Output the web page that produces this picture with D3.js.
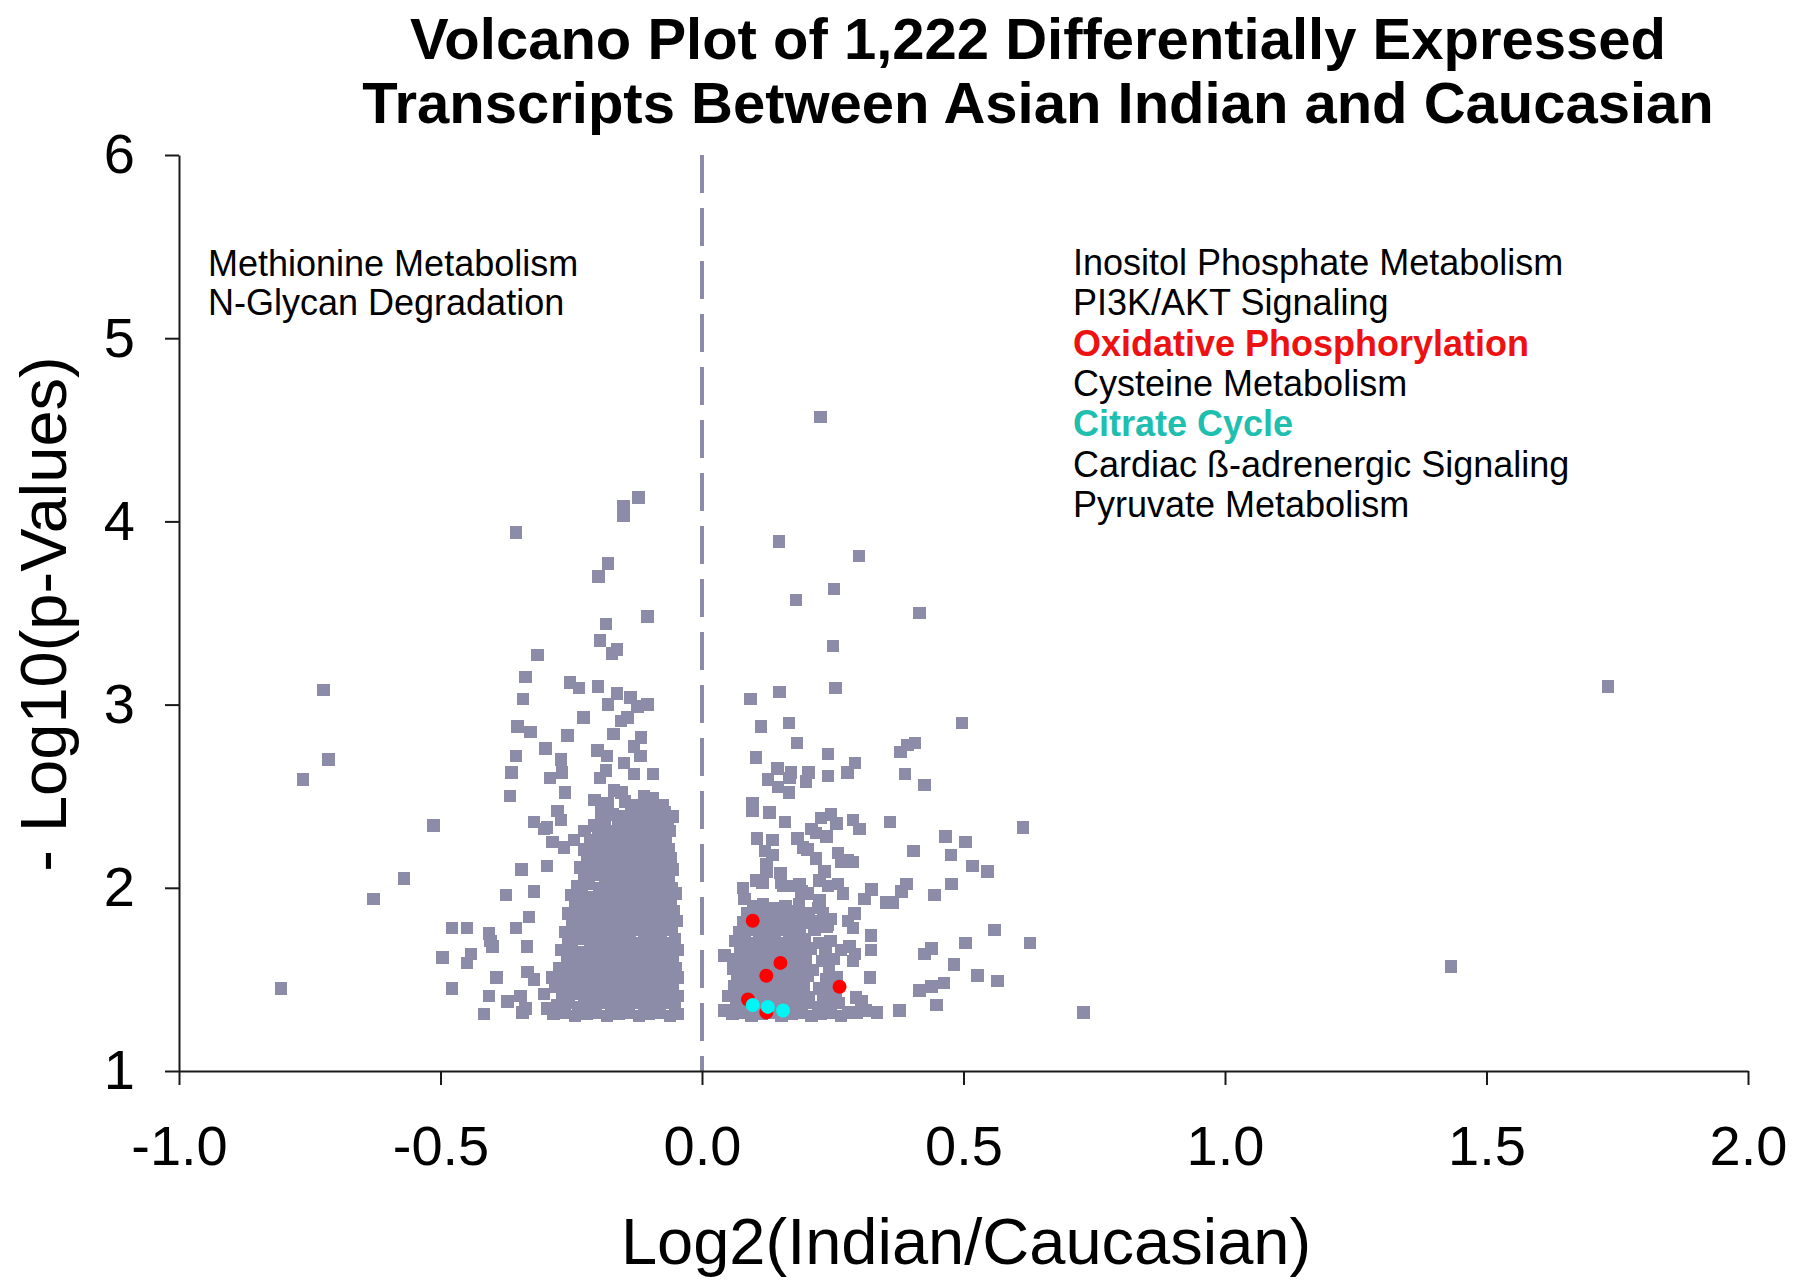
<!DOCTYPE html>
<html>
<head>
<meta charset="utf-8">
<script src="https://cdn.jsdelivr.net/npm/d3@7/dist/d3.min.js"></script>
<style>
  html, body { margin: 0; padding: 0; background: #ffffff; }
  svg { display: block; font-family: "Liberation Sans", Arial, Helvetica, sans-serif; }
</style>
</head>
<body>
<svg id="chart" width="1800" height="1285"></svg>
<script>
// ---------------- DATA ----------------
const titleLines = ["Volcano Plot of 1,222 Differentially Expressed", "Transcripts Between Asian Indian and Caucasian"];
const xTitle = "Log2(Indian/Caucasian)";
const yTitle = "- Log10(p-Values)";
const xTicks = [-1.0, -0.5, 0.0, 0.5, 1.0, 1.5, 2.0];
const yTicks = [1, 2, 3, 4, 5, 6];

const leftPathways = ["Methionine Metabolism", "N-Glycan Degradation"];
const rightPathways = ["Inositol Phosphate Metabolism", "PI3K/AKT Signaling", "Oxidative Phosphorylation",
  "Cysteine Metabolism", "Citrate Cycle", "Cardiac ß-adrenergic Signaling", "Pyruvate Metabolism"];
const highlightedPathways = { "Oxidative Phosphorylation": "ox", "Citrate Cycle": "cit" };

// sparse transcripts, down-regulated side
const leftSparse = [
  [-0.121,4.13],[-0.150,4.08],[-0.150,4.03],[-0.356,3.94],[-0.180,3.77],[-0.198,3.70],[-0.104,3.48],[-0.184,3.44],
  [-0.195,3.35],[-0.163,3.30],[-0.172,3.28],[-0.315,3.27],[-0.337,3.15],[-0.724,3.08],[-0.342,3.03],[-0.252,3.12],
  [-0.235,3.09],[-0.199,3.10],[-0.163,3.06],[-0.137,3.04],[-0.123,2.99],[-0.104,3.00],[-0.180,3.00],[-0.227,2.93],
  [-0.353,2.88],[-0.328,2.85],[-0.257,2.83],[-0.155,2.91],[-0.142,2.93],[-0.169,2.84],[-0.117,2.82],[-0.299,2.76],
  [-0.356,2.72],[-0.270,2.70],[-0.200,2.75],[-0.182,2.72],[-0.130,2.77],[-0.118,2.72],[-0.149,2.68],[-0.364,2.63],
  [-0.268,2.63],[-0.291,2.60],[-0.184,2.64],[-0.195,2.60],[-0.130,2.62],[-0.094,2.62],[-0.763,2.59],[-0.367,2.50],
  [-0.262,2.52],[-0.168,2.53],[-0.154,2.52],[-0.111,2.50],[-0.094,2.49],[-0.206,2.48],[-0.193,2.44],[-0.276,2.42],
  [-0.270,2.37],[-0.321,2.36],[-0.056,2.39],[-0.513,2.34],[-0.123,2.42],[-0.101,2.42],[-0.155,2.39],[-0.296,2.33],
  [-0.714,2.70],[-0.570,2.05],[-0.628,1.94],[-0.478,1.78],[-0.449,1.78],[-0.407,1.75],[-0.401,1.68],[-0.404,1.71],
  [-0.496,1.62],[-0.442,1.64],[-0.449,1.59],[-0.393,1.51],[-0.805,1.45],[-0.478,1.45],[-0.407,1.41],[-0.417,1.31],
  [-0.085,2.45],[-0.076,2.45],[-0.302,2.32],[-0.161,2.34],[-0.193,2.40],[-0.206,2.34],[-0.225,2.31],[-0.245,2.26],
  [-0.286,2.25],[-0.264,2.22],[-0.345,2.10],[-0.296,2.12],[-0.375,1.96],[-0.321,1.98],[-0.331,1.84],[-0.356,1.78],
  [-0.335,1.68],[-0.334,1.54],[-0.321,1.50],[-0.302,1.42],[-0.286,1.51],[-0.372,1.38],[-0.347,1.41],[-0.337,1.34],
  [-0.343,1.32],[-0.296,1.34]
];

// dense core, down-regulated side
const leftDense = [
  [-0.284,1.31],[-0.262,1.32],[-0.243,1.30],[-0.221,1.31],[-0.203,1.32],[-0.182,1.30],[-0.160,1.31],[-0.141,1.32],[-0.120,1.30],[-0.101,1.31],[-0.080,1.32],[-0.061,1.30],[-0.046,1.31],
  [-0.276,1.36],[-0.255,1.37],[-0.236,1.35],[-0.214,1.36],[-0.193,1.37],[-0.173,1.36],[-0.152,1.35],[-0.131,1.37],[-0.111,1.36],[-0.090,1.35],[-0.070,1.37],[-0.052,1.36],
  [-0.268,1.41],[-0.247,1.42],[-0.226,1.40],[-0.206,1.41],[-0.186,1.42],[-0.165,1.41],[-0.144,1.40],[-0.124,1.42],[-0.104,1.41],[-0.083,1.40],[-0.063,1.42],[-0.047,1.41],
  [-0.281,1.46],[-0.259,1.47],[-0.239,1.45],[-0.218,1.46],[-0.197,1.47],[-0.177,1.46],[-0.156,1.45],[-0.136,1.47],[-0.115,1.46],[-0.095,1.45],[-0.074,1.47],[-0.055,1.46],
  [-0.266,1.51],[-0.246,1.52],[-0.225,1.50],[-0.204,1.51],[-0.184,1.52],[-0.163,1.51],[-0.142,1.50],[-0.122,1.52],[-0.101,1.51],[-0.081,1.50],[-0.061,1.52],[-0.046,1.51],
  [-0.272,1.56],[-0.252,1.57],[-0.231,1.55],[-0.211,1.56],[-0.190,1.57],[-0.170,1.56],[-0.149,1.55],[-0.129,1.57],[-0.108,1.56],[-0.088,1.55],[-0.067,1.57],[-0.051,1.56],
  [-0.258,1.61],[-0.238,1.62],[-0.217,1.60],[-0.197,1.61],[-0.176,1.62],[-0.156,1.61],[-0.135,1.60],[-0.115,1.62],[-0.094,1.61],[-0.074,1.60],[-0.055,1.62],
  [-0.270,1.66],[-0.249,1.67],[-0.229,1.65],[-0.208,1.66],[-0.188,1.67],[-0.167,1.66],[-0.147,1.65],[-0.126,1.67],[-0.106,1.66],[-0.085,1.65],[-0.065,1.67],[-0.047,1.66],
  [-0.255,1.71],[-0.234,1.72],[-0.214,1.70],[-0.193,1.71],[-0.173,1.72],[-0.152,1.71],[-0.132,1.70],[-0.111,1.72],[-0.091,1.71],[-0.070,1.70],[-0.052,1.72],
  [-0.262,1.76],[-0.242,1.77],[-0.221,1.75],[-0.201,1.76],[-0.180,1.77],[-0.160,1.76],[-0.139,1.75],[-0.119,1.77],[-0.098,1.76],[-0.078,1.75],[-0.058,1.77],
  [-0.249,1.81],[-0.228,1.82],[-0.208,1.80],[-0.187,1.81],[-0.167,1.82],[-0.146,1.81],[-0.126,1.80],[-0.105,1.82],[-0.085,1.81],[-0.064,1.80],[-0.048,1.82],
  [-0.256,1.86],[-0.236,1.87],[-0.215,1.85],[-0.195,1.86],[-0.174,1.87],[-0.154,1.86],[-0.133,1.85],[-0.113,1.87],[-0.092,1.86],[-0.072,1.85],[-0.054,1.87],
  [-0.243,1.91],[-0.222,1.92],[-0.202,1.90],[-0.181,1.91],[-0.161,1.92],[-0.140,1.91],[-0.120,1.90],[-0.099,1.92],[-0.079,1.91],[-0.059,1.90],
  [-0.250,1.96],[-0.230,1.97],[-0.209,1.95],[-0.189,1.96],[-0.168,1.97],[-0.148,1.96],[-0.127,1.95],[-0.107,1.97],[-0.086,1.96],[-0.066,1.95],[-0.050,1.97],
  [-0.238,2.01],[-0.217,2.02],[-0.197,2.00],[-0.176,2.01],[-0.156,2.02],[-0.135,2.01],[-0.115,2.00],[-0.094,2.02],[-0.074,2.01],[-0.057,2.00],
  [-0.226,2.06],[-0.205,2.07],[-0.185,2.05],[-0.164,2.06],[-0.144,2.07],[-0.123,2.06],[-0.103,2.05],[-0.082,2.07],[-0.063,2.06],
  [-0.232,2.11],[-0.212,2.12],[-0.191,2.10],[-0.171,2.11],[-0.150,2.12],[-0.130,2.11],[-0.109,2.10],[-0.089,2.12],[-0.069,2.11],[-0.056,2.10],
  [-0.219,2.16],[-0.199,2.17],[-0.178,2.15],[-0.158,2.16],[-0.137,2.17],[-0.117,2.16],[-0.096,2.15],[-0.076,2.17],[-0.060,2.16],
  [-0.226,2.21],[-0.206,2.22],[-0.185,2.20],[-0.165,2.21],[-0.144,2.22],[-0.124,2.21],[-0.103,2.20],[-0.083,2.22],[-0.064,2.21],
  [-0.213,2.26],[-0.192,2.27],[-0.172,2.25],[-0.151,2.26],[-0.131,2.27],[-0.110,2.26],[-0.090,2.25],[-0.070,2.27],
  [-0.198,2.30],[-0.178,2.31],[-0.157,2.29],[-0.137,2.30],[-0.116,2.31],[-0.096,2.30],[-0.076,2.29],[-0.062,2.31],
  [-0.185,2.35],[-0.143,2.36],[-0.122,2.34],[-0.102,2.35],[-0.081,2.36],[-0.066,2.35],
  [-0.170,2.40],[-0.136,2.41],[-0.115,2.39],[-0.092,2.40],[-0.072,2.41],
  [-0.181,2.46],[-0.147,2.47],[-0.126,2.45],[-0.105,2.46]
];

// sparse transcripts, up-regulated side
const rightSparse = [
  [0.227,4.57],[0.147,3.89],[0.300,3.81],[0.252,3.63],[0.180,3.57],[0.416,3.50],[0.250,3.32],[0.093,3.03],
  [0.148,3.07],[0.255,3.09],[0.166,2.90],[0.497,2.90],[0.113,2.88],[0.182,2.79],[0.103,2.71],[0.241,2.73],
  [0.380,2.74],[0.393,2.78],[0.407,2.79],[0.144,2.65],[0.170,2.63],[0.204,2.63],[0.167,2.60],[0.199,2.58],
  [0.126,2.59],[0.145,2.55],[0.166,2.52],[0.241,2.61],[0.278,2.63],[0.293,2.68],[0.388,2.62],[0.425,2.56],
  [0.097,2.46],[0.097,2.42],[0.129,2.41],[0.159,2.36],[0.209,2.32],[0.218,2.30],[0.228,2.38],[0.247,2.40],
  [0.257,2.35],[0.238,2.28],[0.289,2.37],[0.301,2.32],[0.359,2.36],[0.614,2.33],[0.105,2.27],[0.135,2.26],
  [0.183,2.27],[0.193,2.22],[0.202,2.21],[0.466,2.28],[0.504,2.25],[0.120,2.20],[0.135,2.18],[0.123,2.13],
  [0.218,2.16],[0.260,2.19],[0.266,2.14],[0.279,2.15],[0.289,2.14],[0.404,2.20],[0.476,2.18],[0.517,2.12],
  [0.546,2.09],[0.123,2.09],[0.150,2.08],[0.151,2.03],[0.234,2.09],[0.103,2.04],[0.116,2.03],[0.078,2.00],
  [0.081,1.94],[0.155,2.01],[0.170,2.01],[0.186,2.02],[0.190,1.98],[0.202,1.97],[0.225,2.04],[0.241,2.01],
  [0.260,2.02],[0.270,1.97],[0.311,1.94],[0.324,1.99],[0.352,1.92],[0.365,1.92],[0.381,1.98],[0.391,2.02],
  [0.445,1.96],[0.477,2.02],[0.225,1.93],[0.222,1.89],[0.231,1.86],[0.247,1.83],[0.238,1.79],[0.279,1.82],
  [0.292,1.86],[0.289,1.78],[0.323,1.74],[0.323,1.66],[0.559,1.77],[0.627,1.70],[0.504,1.70],[0.425,1.64],
  [0.439,1.67],[0.482,1.58],[0.043,1.63],[0.266,1.66],[0.282,1.68],[0.293,1.64],[0.289,1.60],[0.321,1.51],
  [0.527,1.52],[0.565,1.49],[0.416,1.44],[0.439,1.46],[0.463,1.48],[0.294,1.40],[0.305,1.38],[0.448,1.36],
  [0.378,1.33],[0.279,1.32],[0.295,1.32],[0.314,1.33],[0.335,1.32],[0.729,1.32],[0.043,1.33],
  [1.732,3.10],[1.432,1.57]
];

// dense core, up-regulated side
const rightDense = [
  [0.058,1.31],[0.076,1.32],[0.095,1.30],[0.114,1.31],[0.133,1.32],[0.152,1.30],[0.171,1.31],[0.190,1.32],[0.209,1.30],[0.228,1.31],[0.247,1.32],[0.266,1.30],
  [0.066,1.36],[0.085,1.37],[0.104,1.35],[0.124,1.36],[0.143,1.37],[0.162,1.35],[0.181,1.36],[0.200,1.37],[0.222,1.35],[0.245,1.36],[0.262,1.37],
  [0.051,1.41],[0.070,1.42],[0.090,1.40],[0.109,1.41],[0.128,1.42],[0.147,1.40],[0.167,1.41],[0.186,1.42],[0.205,1.40],[0.232,1.41],[0.255,1.42],
  [0.061,1.46],[0.080,1.47],[0.099,1.45],[0.118,1.46],[0.138,1.47],[0.157,1.45],[0.176,1.46],[0.195,1.47],[0.224,1.45],[0.248,1.46],
  [0.068,1.51],[0.087,1.52],[0.106,1.50],[0.125,1.51],[0.145,1.52],[0.164,1.50],[0.183,1.51],[0.203,1.52],[0.237,1.50],[0.258,1.51],
  [0.059,1.56],[0.078,1.57],[0.097,1.55],[0.116,1.56],[0.135,1.57],[0.155,1.55],[0.174,1.56],[0.193,1.57],[0.212,1.55],[0.243,1.56],
  [0.065,1.61],[0.084,1.62],[0.103,1.60],[0.122,1.61],[0.142,1.62],[0.161,1.60],[0.180,1.61],[0.199,1.62],[0.230,1.60],[0.251,1.61],
  [0.073,1.66],[0.092,1.67],[0.111,1.65],[0.130,1.66],[0.150,1.67],[0.169,1.65],[0.188,1.66],[0.207,1.67],[0.236,1.65],
  [0.063,1.71],[0.082,1.72],[0.101,1.70],[0.120,1.71],[0.140,1.72],[0.159,1.70],[0.178,1.71],[0.197,1.72],[0.225,1.70],[0.246,1.71],
  [0.071,1.76],[0.090,1.77],[0.109,1.75],[0.128,1.76],[0.148,1.77],[0.167,1.75],[0.186,1.76],[0.215,1.77],
  [0.079,1.81],[0.098,1.82],[0.117,1.80],[0.137,1.81],[0.156,1.82],[0.175,1.80],[0.194,1.81],[0.213,1.82],[0.240,1.80],
  [0.086,1.86],[0.105,1.87],[0.125,1.85],[0.144,1.86],[0.163,1.87],[0.183,1.85],[0.205,1.86],
  [0.098,1.90],[0.117,1.91],[0.136,1.89],[0.160,1.90],[0.185,1.91]
];

// highlighted pathway transcripts
const oxPhos = [[0.097,1.82],[0.150,1.59],[0.123,1.52],[0.263,1.46],[0.088,1.39],[0.123,1.32]];
const citrate = [[0.097,1.36],[0.126,1.35],[0.155,1.33]];

// ---------------- DRAW ----------------
const svg = d3.select("#chart");
const W = 1800, H = 1285;
svg.append("rect").attr("width", W).attr("height", H).attr("fill", "#ffffff");

const gray = "#8c8ca8";
const x = d3.scaleLinear().domain([-1, 2]).range([179, 1748]);
const y = d3.scaleLinear().domain([1, 6]).range([1071, 155]);

// title
svg.append("text")
  .attr("x", 1038).attr("text-anchor", "middle")
  .attr("font-size", 58).attr("font-weight", "bold").attr("fill", "#000")
  .selectAll("tspan").data(titleLines).join("tspan")
  .attr("x", 1038).attr("y", (d, i) => 59 + i * 64).text(d => d);

// dashed zero line
svg.append("line")
  .attr("x1", x(0)).attr("x2", x(0)).attr("y1", y(6)).attr("y2", y(1))
  .attr("stroke", gray).attr("stroke-width", 4).attr("stroke-dasharray", "38 15");

// gray points
const grayPts = leftSparse.concat(leftDense, rightSparse, rightDense);
const sq = 12.5;
svg.append("g").attr("shape-rendering", "crispEdges")
  .selectAll("rect").data(grayPts).join("rect")
  .attr("x", d => x(d[0]) - sq / 2).attr("y", d => y(d[1]) - sq / 2)
  .attr("width", sq).attr("height", sq).attr("fill", gray);

svg.append("g").selectAll("circle").data(oxPhos).join("circle")
  .attr("cx", d => x(d[0])).attr("cy", d => y(d[1])).attr("r", 7).attr("fill", "#ff0000");
svg.append("g").selectAll("circle").data(citrate).join("circle")
  .attr("cx", d => x(d[0])).attr("cy", d => y(d[1])).attr("r", 7).attr("fill", "#00f5f5");

// axes
const axisColor = "#1a1a1a";
const gy = svg.append("g").attr("transform", `translate(${x(-1)},0)`)
  .call(d3.axisLeft(y).tickValues(yTicks).tickSize(14).tickSizeOuter(0).tickPadding(30).tickFormat(d => String(d)));
const gx = svg.append("g").attr("transform", `translate(0,${y(1)})`)
  .call(d3.axisBottom(x).tickValues(xTicks).tickSize(14).tickSizeOuter(0).tickPadding(40).tickFormat(d => d.toFixed(1)));
[gx, gy].forEach(g => {
  g.selectAll("path, line").attr("stroke", axisColor).attr("stroke-width", 2);
  g.selectAll("text").attr("font-size", 56).attr("fill", "#000")
    .attr("font-family", "'Liberation Sans', Arial, sans-serif");
});

// axis titles
svg.append("text").attr("x", 966).attr("y", 1264).attr("text-anchor", "middle")
  .attr("font-size", 65).attr("fill", "#000").text(xTitle);
svg.append("text").attr("transform", "translate(66,614) rotate(-90)").attr("text-anchor", "middle")
  .attr("font-size", 65).attr("fill", "#000").text(yTitle);

// pathway annotations
svg.append("g").selectAll("text").data(leftPathways).join("text")
  .attr("x", 208).attr("y", (d, i) => 276 + i * 39)
  .attr("font-size", 36).attr("fill", "#000").text(d => d);

const hlColor = { ox: "#ee1111", cit: "#1fbfb0" };
svg.append("g").selectAll("text").data(rightPathways).join("text")
  .attr("x", 1073).attr("y", (d, i) => 275 + i * 40.3)
  .attr("font-size", 36)
  .attr("font-weight", d => highlightedPathways[d] ? "bold" : "normal")
  .attr("fill", d => highlightedPathways[d] ? hlColor[highlightedPathways[d]] : "#000")
  .text(d => d);
</script>
</body>
</html>
